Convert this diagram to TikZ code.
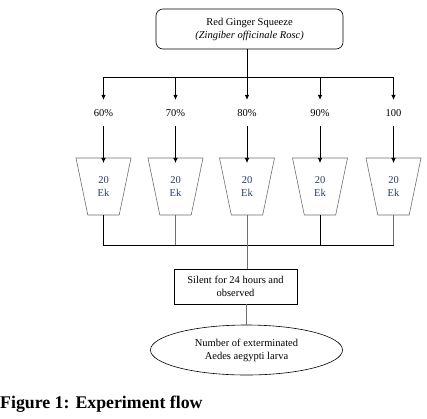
\documentclass[tikz,border=0pt]{standalone}
\usepackage{fontspec}
\setmainfont{Liberation Serif}
\usetikzlibrary{shapes.geometric,arrows.meta}
\definecolor{eknavy}{RGB}{40,58,105}
\definecolor{thingray}{RGB}{110,110,110}
\tikzset{
  x=1pt,y=-1pt,
  txt/.style={font=\fontsize{10.5}{13}\selectfont, align=center},
  topbox/.style={txt, draw, rounded corners=7pt, line width=0.6pt, minimum width=187pt, minimum height=40pt, inner sep=0pt},
  midbox/.style={txt, draw, line width=0.7pt, minimum width=123pt, minimum height=35pt, inner sep=0pt},
  ellbox/.style={txt, draw, ellipse, line width=0.6pt, minimum width=192pt, minimum height=50pt, inner sep=0pt},
  pct/.style={txt, inner sep=0pt, minimum height=26pt},
  cup/.style={txt, draw=thingray, line width=0.6pt, trapezium, shape border rotate=180, trapezium stretches=true, trapezium angle=77.6, minimum width=55pt, minimum height=57pt, inner sep=0pt, outer sep=0pt, text=eknavy},
  conn/.style={line width=0.7pt},
  lightconn/.style={line width=0.5pt, draw=thingray},
  arr/.style={line width=0.7pt, -{Latex[length=5pt,width=4.5pt]}},
}
\begin{document}
\begin{tikzpicture}
\useasboundingbox (0,0) rectangle (427,418);
\node[topbox] (top) at (249.5,29) {Red Ginger Squeeze\\\textit{(Zingiber officinale Rosc)}};
\coordinate (busA) at (0,77);
\coordinate (busB) at (0,245);
\foreach \i/\x/\lab in {1/103.5/60\%,2/175.5/70\%,3/247/80\%,4/320/90\%,5/393.5/100}{
  \node[pct] (p\i) at (\x,113) {\lab};
  \node[cup] (t\i) at (\x,186.5) {20\\Ek};
  \draw[arr] (p\i.south) -- ([yshift=-5pt]t\i.north);
}
% top distribution
\draw[conn] (p1.north |- busA) -- (p5.north |- busA);
\draw[arr] (top.south -| p3.north) -- (p3.north);
\foreach \i in {1,2,4,5}{
  \draw[arr] (p\i.north |- busA) -- (p\i.north);
}
% bottom collection
\draw[conn] (t1.south) -- (t1.south |- busB) -- (t5.south |- busB);
\draw[conn] (t4.south) -- (t4.south |- busB);
\draw[lightconn] (t2.south) -- (t2.south |- busB);
\draw[lightconn] (t5.south) -- (t5.south |- busB);
\node[midbox] (mid) at (235.5,286.5) {Silent for 24 hours and\\observed};
\draw[lightconn] (t3.south) -- (mid.north -| t3.south);
\node[ellbox] (ell) at (246.5,350) {Number of exterminated\\Aedes aegypti larva};
\draw[lightconn] (mid.south -| ell.north) -- (ell.north);
\node[anchor=base west, inner sep=0pt, font=\fontsize{17.8}{21}\selectfont\bfseries] (cap) at (0,408) {Figure 1: Experiment flow};
\end{tikzpicture}
\end{document}
